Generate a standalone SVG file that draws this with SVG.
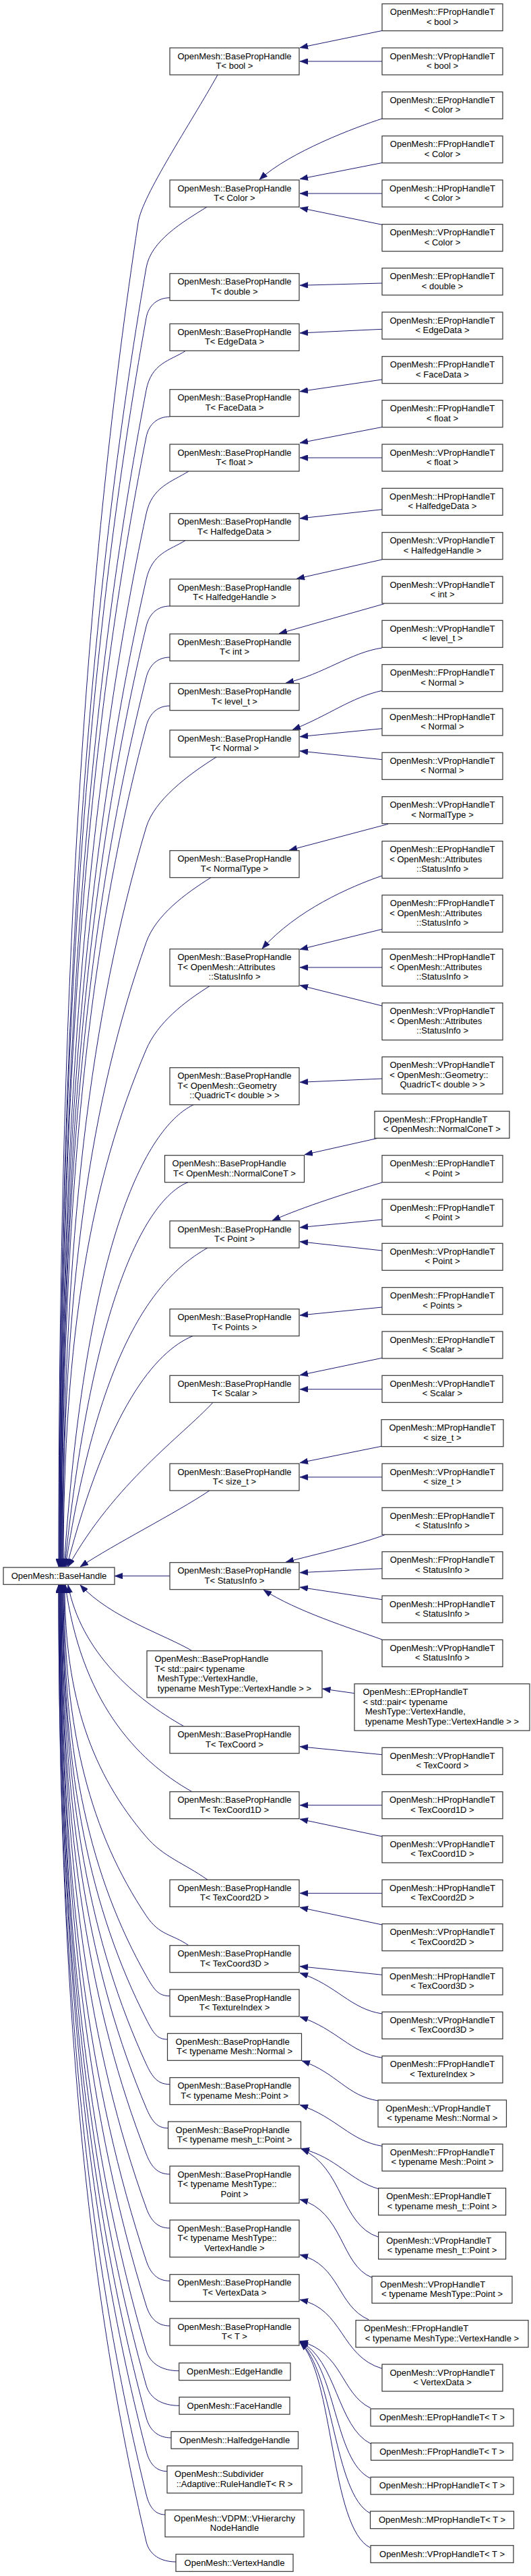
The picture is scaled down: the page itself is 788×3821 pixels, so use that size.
<svg xmlns="http://www.w3.org/2000/svg" width="788" height="3821" viewBox="0 0 788 3821">
<style>
rect{fill:#fff;stroke:#333;stroke-width:1.2}
text{font-family:"Liberation Sans",Arial,sans-serif;font-size:13px;fill:#000}
.c{text-anchor:middle}
#edges path{fill:none;stroke:#191970;stroke-width:1;marker-end:url(#arr)}
</style>
<defs>
<marker id="arr" markerUnits="userSpaceOnUse" viewBox="0 0 12 9" markerWidth="12" markerHeight="9" refX="12" refY="4.5" orient="auto"><path d="M0,0 L12,4.5 L0,9 Z" fill="#191970" stroke="#191970" stroke-width="0.5"/></marker>
</defs>
<rect x="0" y="0" width="788" height="3821" style="fill:#fff;stroke:none"/>
<g id="edges">
<path d="M567,45.5 L445,70.7"/>
<path d="M567,91 L445,91"/>
<path d="M567,176 C530,188 430,225 385,266.5"/>
<path d="M567,241.5 L445,265.5"/>
<path d="M567,287 L445,287"/>
<path d="M567,333.3 L445,308.3"/>
<path d="M567,420 L445,423.3"/>
<path d="M567,488.3 L445,494"/>
<path d="M567,563 L445,580.7"/>
<path d="M567,633.5 L445,657"/>
<path d="M567,679 L445,679"/>
<path d="M567,755.7 L445,769"/>
<path d="M567,830 L440,858.5"/>
<path d="M570,895.7 L414,939.8"/>
<path d="M567,961 C520,968 480,1000 424,1013.2"/>
<path d="M567,1024.3 C520,1035 490,1060 434,1082.5"/>
<path d="M567,1080.7 L445,1092.7"/>
<path d="M567,1126.7 L445,1114"/>
<path d="M576,1222.3 L429,1261.2"/>
<path d="M567,1299 C520,1315 440,1350 389,1407.2"/>
<path d="M567,1378.3 L445,1408.3"/>
<path d="M567,1435 L445,1435"/>
<path d="M567,1492 L445,1461.5"/>
<path d="M567,1600 L445,1605.3"/>
<path d="M560.6,1688.3 L452,1712.7"/>
<path d="M567,1754 C520,1768 450,1790 404,1810.5"/>
<path d="M567,1809 L445,1820.7"/>
<path d="M567,1855 L445,1841.7"/>
<path d="M567,1939 L445,1951"/>
<path d="M567,2014.3 L445,2039.8"/>
<path d="M567,2060.7 L445,2060.7"/>
<path d="M566,2145.3 L445,2169.8"/>
<path d="M567,2191 L445,2191"/>
<path d="M571,2276.7 C530,2292 470,2305 424,2317.2"/>
<path d="M567,2326.7 L445,2332.7"/>
<path d="M567,2372.7 L445,2354.3"/>
<path d="M567,2432 C520,2415 440,2390 391,2358.2"/>
<path d="M526,2511.7 L478.5,2505"/>
<path d="M567,2602.7 L445,2590.7"/>
<path d="M567,2677.7 L445,2677.7"/>
<path d="M567,2724 L445,2698.3"/>
<path d="M567,2808.3 L445,2808.3"/>
<path d="M567,2855 L445,2829.3"/>
<path d="M567,2929.3 L445,2916.7"/>
<path d="M567,2987 C520,2980 500,2945 445,2926.5"/>
<path d="M567,3052.3 C520,3045 500,3010 445,2991.5"/>
<path d="M561,3116 C515,3109 500,3075 448,3056.8"/>
<path d="M567,3183.3 C520,3176 500,3141 445,3122.2"/>
<path d="M561.6,3246.7 C520,3235 500,3200 447,3187"/>
<path d="M561.6,3318.3 C505,3300 510,3215 447,3187.5"/>
<path d="M552,3378.3 C505,3360 510,3280 445,3262.5"/>
<path d="M547,3440.7 C500,3420 505,3360 445,3344.5"/>
<path d="M567,3513.3 C505,3495 510,3425 445,3411.2"/>
<path d="M550,3572 C505,3550 510,3490 445,3472.5"/>
<path d="M550.5,3625 C500,3600 500,3500 445,3473"/>
<path d="M549.5,3676 C495,3650 500,3510 445,3473.5"/>
<path d="M549.5,3728 C495,3700 495,3515 445,3474"/>
<path d="M549.5,3779 C490,3750 495,3520 445,3474.5"/>
<path d="M323,111 C283,183 211,290 205,330 C129.6,828.5 87,1426.7 87,2324"/>
<path d="M307,307 C271,329.5 223.9,357 217,397 C133.8,878.8 88,1456.9 88,2324"/>
<path d="M252,441.7 C235,441.7 220.6,451.7 217,471.7 C133.8,934.8 88,1490.5 88,2324"/>
<path d="M275,520.7 C251.8,535.2 224.6,538.7 217,578.7 C133.8,1015 89,1538.6 89,2324"/>
<path d="M252,618 C235,618 221,628 217,648 C133.8,1067 89,1569.8 89,2324"/>
<path d="M280,699 C254.8,714.8 225.5,722 217,762 C133.8,1152.5 90,1621.1 90,2324"/>
<path d="M275,801.7 C251.8,816.2 226.1,819.7 217,859.7 C133.8,1225.8 90,1665.1 90,2324"/>
<path d="M252,899 C235,899 221.8,909 217,929 C133.8,1277.8 91,1696.3 91,2324"/>
<path d="M252,975 C235,975 222,985 217,1005 C133.8,1334.8 91,1730.5 91,2324"/>
<path d="M252,1047 C235,1047 222.3,1057 217,1077 C133.8,1388.8 92,1762.9 92,2324"/>
<path d="M321,1123 C279.4,1149 229,1187 217,1227 C135.1,1501.3 93,1830.4 93,2324"/>
<path d="M313,1301.7 C274.6,1325.7 231.2,1357.7 217,1397.7 C135.1,1629.3 93,1907.2 93,2324"/>
<path d="M311,1462.7 C273.4,1486.2 234.1,1516.7 217,1556.7 C135.1,1748.5 94,1978.7 94,2324"/>
<path d="M288,1638.3 C230,1665 130,1800 95,2324"/>
<path d="M279,1753.7 C225,1775 140,1900 96,2324"/>
<path d="M308,1851 C240,1890 150,1980 97,2324"/>
<path d="M286,1981.7 C230,2005 160,2090 99,2324"/>
<path d="M316,2080.3 C270,2130 170,2200 101,2324"/>
<path d="M311,2211 C260,2245 170,2290 119,2324"/>
<path d="M252,2337.7 L170,2337.7"/>
<path d="M285,2448.7 C245,2425 165,2400 119,2351"/>
<path d="M273,2560.7 C200,2520 120,2450 101,2351"/>
<path d="M285,2657.7 C200,2610 120,2520 97,2351"/>
<path d="M308,2788.3 C271.6,2762.8 242.7,2754.6 217,2724.6 C137,2631.2 96,2519.1 96,2351"/>
<path d="M280,2885.7 C254.8,2868.1 237,2871.6 217,2841.6 C135.1,2719 95,2571.8 95,2351"/>
<path d="M252,2960.7 C234.5,2960.7 228.3,2950.7 217,2930.7 C135.1,2785.8 94,2611.9 94,2351"/>
<path d="M248.5,3025 C232.8,3025 227.2,3015 217,2995 C135.1,2834 93,2640.8 93,2351"/>
<path d="M252,3091.7 C234.5,3091.7 226.2,3081.7 217,3061.7 C135.1,2884 93,2670.8 93,2351"/>
<path d="M249.5,3156.7 C233.3,3156.7 225.4,3146.7 217,3126.7 C135.1,2932.8 92,2700.1 92,2351"/>
<path d="M252,3225 C234.5,3225 224.8,3215 217,3195 C135.1,2984 91,2730.8 91,2351"/>
<path d="M252,3305 C234.5,3305 224.2,3295 217,3275 C133.8,3044 91,2766.8 91,2351"/>
<path d="M252,3383.3 C234.5,3383.3 223.6,3373.3 217,3353.3 C133.8,3102.7 90,2802 90,2351"/>
<path d="M252,3450 C234.5,3450 223.2,3440 217,3420 C133.8,3152.8 90,2832 90,2351"/>
<path d="M265.7,3516.7 C241.4,3516.7 222.9,3506.7 217,3486.7 C133.8,3202.8 89,2862.1 89,2351"/>
<path d="M266,3568.3 C241.5,3568.3 222.6,3558.3 217,3538.3 C133.8,3241.5 89,2885.3 89,2351"/>
<path d="M254,3616 C235.5,3616 222.4,3606 217,3586 C133.8,3277.3 88,2906.8 88,2351"/>
<path d="M248,3665.7 C232.5,3665.7 222.2,3655.7 217,3635.7 C133.8,3314.5 88,2929.1 88,2351"/>
<path d="M245,3730 C231,3730 221.9,3720 217,3700 C133.8,3362.8 87,2958 87,2351"/>
<path d="M261,3800 C239,3800 221.7,3790 217,3770 C133.8,3415.3 87,2989.6 87,2351"/>
</g>
<g id="n_basehandle"><rect x="5" y="2325" width="165" height="25.3"/><text x="87.5" y="2342" class="c">OpenMesh::BaseHandle</text></g>
<g id="m_bool"><rect x="252" y="71" width="192" height="40"/><text x="348" y="87.5" class="c">OpenMesh::BasePropHandle</text><text x="348" y="102" class="c">T&lt; bool &gt;</text></g>
<g id="m_color"><rect x="252" y="267" width="192" height="40"/><text x="348" y="283.5" class="c">OpenMesh::BasePropHandle</text><text x="348" y="298" class="c">T&lt; Color &gt;</text></g>
<g id="m_double"><rect x="252" y="405.7" width="192" height="40"/><text x="348" y="422.2" class="c">OpenMesh::BasePropHandle</text><text x="348" y="436.7" class="c">T&lt; double &gt;</text></g>
<g id="m_edgedata"><rect x="252" y="480.3" width="192" height="40"/><text x="348" y="496.8" class="c">OpenMesh::BasePropHandle</text><text x="348" y="511.3" class="c">T&lt; EdgeData &gt;</text></g>
<g id="m_facedata"><rect x="252" y="577.7" width="192" height="40"/><text x="348" y="594.2" class="c">OpenMesh::BasePropHandle</text><text x="348" y="608.7" class="c">T&lt; FaceData &gt;</text></g>
<g id="m_float"><rect x="252" y="659" width="192" height="40"/><text x="348" y="675.5" class="c">OpenMesh::BasePropHandle</text><text x="348" y="690" class="c">T&lt; float &gt;</text></g>
<g id="m_halfedgedata"><rect x="252" y="761.7" width="192" height="40"/><text x="348" y="778.2" class="c">OpenMesh::BasePropHandle</text><text x="348" y="792.7" class="c">T&lt; HalfedgeData &gt;</text></g>
<g id="m_halfedgehandle"><rect x="252" y="859" width="192" height="40"/><text x="348" y="875.5" class="c">OpenMesh::BasePropHandle</text><text x="348" y="890" class="c">T&lt; HalfedgeHandle &gt;</text></g>
<g id="m_int"><rect x="252" y="940.3" width="192" height="40"/><text x="348" y="956.8" class="c">OpenMesh::BasePropHandle</text><text x="348" y="971.3" class="c">T&lt; int &gt;</text></g>
<g id="m_level"><rect x="252" y="1013.7" width="192" height="40"/><text x="348" y="1030.2" class="c">OpenMesh::BasePropHandle</text><text x="348" y="1044.7" class="c">T&lt; level_t &gt;</text></g>
<g id="m_normal"><rect x="252" y="1083" width="192" height="40"/><text x="348" y="1099.5" class="c">OpenMesh::BasePropHandle</text><text x="348" y="1114" class="c">T&lt; Normal &gt;</text></g>
<g id="m_normaltype"><rect x="252" y="1261.7" width="192" height="40"/><text x="348" y="1278.2" class="c">OpenMesh::BasePropHandle</text><text x="348" y="1292.7" class="c">T&lt; NormalType &gt;</text></g>
<g id="m_attr"><rect x="252" y="1407.7" width="192" height="55"/><text x="348" y="1424.2" class="c">OpenMesh::BasePropHandle</text><text x="263.6" y="1438.7">T&lt; OpenMesh::Attributes</text><text x="348" y="1453.2" class="c">::StatusInfo &gt;</text></g>
<g id="m_quadric"><rect x="252" y="1583.7" width="192" height="55"/><text x="348" y="1600.2" class="c">OpenMesh::BasePropHandle</text><text x="263.6" y="1614.7">T&lt; OpenMesh::Geometry</text><text x="348" y="1629.2" class="c">::QuadricT&lt; double &gt; &gt;</text></g>
<g id="m_normalcone"><rect x="244.5" y="1713.7" width="207" height="40"/><text x="255.6" y="1730.2">OpenMesh::BasePropHandle</text><text x="348" y="1744.7" class="c">T&lt; OpenMesh::NormalConeT &gt;</text></g>
<g id="m_point"><rect x="252" y="1811" width="192" height="40"/><text x="348" y="1827.5" class="c">OpenMesh::BasePropHandle</text><text x="348" y="1842" class="c">T&lt; Point &gt;</text></g>
<g id="m_points"><rect x="252" y="1941.7" width="192" height="40"/><text x="348" y="1958.2" class="c">OpenMesh::BasePropHandle</text><text x="348" y="1972.7" class="c">T&lt; Points &gt;</text></g>
<g id="m_scalar"><rect x="252" y="2040.3" width="192" height="40"/><text x="348" y="2056.8" class="c">OpenMesh::BasePropHandle</text><text x="348" y="2071.3" class="c">T&lt; Scalar &gt;</text></g>
<g id="m_size"><rect x="252" y="2171" width="192" height="40"/><text x="348" y="2187.5" class="c">OpenMesh::BasePropHandle</text><text x="348" y="2202" class="c">T&lt; size_t &gt;</text></g>
<g id="m_statusinfo"><rect x="252" y="2317.7" width="192" height="40"/><text x="348" y="2334.2" class="c">OpenMesh::BasePropHandle</text><text x="348" y="2348.7" class="c">T&lt; StatusInfo &gt;</text></g>
<g id="m_pair"><rect x="218" y="2448.7" width="260" height="69.3"/><text x="229.5" y="2465.2">OpenMesh::BasePropHandle</text><text x="229.5" y="2479.7">T&lt; std::pair&lt; typename</text><text x="233.8" y="2494.2">MeshType::VertexHandle,</text><text x="348" y="2508.7" class="c">typename MeshType::VertexHandle &gt; &gt;</text></g>
<g id="m_texcoord"><rect x="252" y="2560.7" width="192" height="40"/><text x="348" y="2577.2" class="c">OpenMesh::BasePropHandle</text><text x="348" y="2591.7" class="c">T&lt; TexCoord &gt;</text></g>
<g id="m_texcoord1d"><rect x="252" y="2657.7" width="192" height="40"/><text x="348" y="2674.2" class="c">OpenMesh::BasePropHandle</text><text x="348" y="2688.7" class="c">T&lt; TexCoord1D &gt;</text></g>
<g id="m_texcoord2d"><rect x="252" y="2788.3" width="192" height="40"/><text x="348" y="2804.8" class="c">OpenMesh::BasePropHandle</text><text x="348" y="2819.3" class="c">T&lt; TexCoord2D &gt;</text></g>
<g id="m_texcoord3d"><rect x="252" y="2885.7" width="192" height="40"/><text x="348" y="2902.2" class="c">OpenMesh::BasePropHandle</text><text x="348" y="2916.7" class="c">T&lt; TexCoord3D &gt;</text></g>
<g id="m_textureindex"><rect x="252" y="2951" width="192" height="40"/><text x="348" y="2967.5" class="c">OpenMesh::BasePropHandle</text><text x="348" y="2982" class="c">T&lt; TextureIndex &gt;</text></g>
<g id="m_meshnormal"><rect x="248.5" y="3016.3" width="199" height="40"/><text x="260.6" y="3032.8">OpenMesh::BasePropHandle</text><text x="348" y="3047.3" class="c">T&lt; typename Mesh::Normal &gt;</text></g>
<g id="m_meshpoint"><rect x="252" y="3081.7" width="192" height="40"/><text x="348" y="3098.2" class="c">OpenMesh::BasePropHandle</text><text x="348" y="3112.7" class="c">T&lt; typename Mesh::Point &gt;</text></g>
<g id="m_meshtpoint"><rect x="249.5" y="3147" width="197" height="40"/><text x="260.6" y="3163.5">OpenMesh::BasePropHandle</text><text x="348" y="3178" class="c">T&lt; typename mesh_t::Point &gt;</text></g>
<g id="m_meshtypepoint"><rect x="252" y="3213" width="192" height="55"/><text x="348" y="3229.5" class="c">OpenMesh::BasePropHandle</text><text x="263.6" y="3244">T&lt; typename MeshType::</text><text x="348" y="3258.5" class="c">Point &gt;</text></g>
<g id="m_meshtypevh"><rect x="252" y="3293" width="192" height="55"/><text x="348" y="3309.5" class="c">OpenMesh::BasePropHandle</text><text x="263.6" y="3324">T&lt; typename MeshType::</text><text x="348" y="3338.5" class="c">VertexHandle &gt;</text></g>
<g id="m_vertexdata"><rect x="252" y="3373.7" width="192" height="40"/><text x="348" y="3390.2" class="c">OpenMesh::BasePropHandle</text><text x="348" y="3404.7" class="c">T&lt; VertexData &gt;</text></g>
<g id="m_t"><rect x="252" y="3439" width="192" height="40"/><text x="348" y="3455.5" class="c">OpenMesh::BasePropHandle</text><text x="348" y="3470" class="c">T&lt; T &gt;</text></g>
<g id="m_edgehandle"><rect x="265.7" y="3505" width="165.3" height="25.7"/><text x="348.3" y="3522" class="c">OpenMesh::EdgeHandle</text></g>
<g id="m_facehandle"><rect x="266" y="3555.7" width="164" height="25.5"/><text x="348" y="3572.7" class="c">OpenMesh::FaceHandle</text></g>
<g id="m_halfedgeh"><rect x="254" y="3606.7" width="188.5" height="25.5"/><text x="348.2" y="3623.7" class="c">OpenMesh::HalfedgeHandle</text></g>
<g id="m_subdivider"><rect x="248" y="3657.7" width="200" height="40.3"/><text x="259.1" y="3674.2">OpenMesh::Subdivider</text><text x="348" y="3688.7" class="c">::Adaptive::RuleHandleT&lt; R &gt;</text></g>
<g id="m_vdpm"><rect x="245" y="3723" width="206" height="40"/><text x="348" y="3739.5" class="c">OpenMesh::VDPM::VHierarchy</text><text x="348" y="3754" class="c">NodeHandle</text></g>
<g id="m_vertexhandle"><rect x="261" y="3788.7" width="174" height="25.6"/><text x="348" y="3805.7" class="c">OpenMesh::VertexHandle</text></g>
<g id="r_f_bool"><rect x="567" y="5.7" width="179" height="40"/><text x="656.5" y="22.2" class="c">OpenMesh::FPropHandleT</text><text x="656.5" y="36.7" class="c">&lt; bool &gt;</text></g>
<g id="r_v_bool"><rect x="567" y="71" width="179" height="40"/><text x="656.5" y="87.5" class="c">OpenMesh::VPropHandleT</text><text x="656.5" y="102" class="c">&lt; bool &gt;</text></g>
<g id="r_e_color"><rect x="567" y="136.3" width="179" height="40"/><text x="656.5" y="152.8" class="c">OpenMesh::EPropHandleT</text><text x="656.5" y="167.3" class="c">&lt; Color &gt;</text></g>
<g id="r_f_color"><rect x="567" y="201.7" width="179" height="40"/><text x="656.5" y="218.2" class="c">OpenMesh::FPropHandleT</text><text x="656.5" y="232.7" class="c">&lt; Color &gt;</text></g>
<g id="r_h_color"><rect x="567" y="267" width="179" height="40"/><text x="656.5" y="283.5" class="c">OpenMesh::HPropHandleT</text><text x="656.5" y="298" class="c">&lt; Color &gt;</text></g>
<g id="r_v_color"><rect x="567" y="332.7" width="179" height="40"/><text x="656.5" y="349.2" class="c">OpenMesh::VPropHandleT</text><text x="656.5" y="363.7" class="c">&lt; Color &gt;</text></g>
<g id="r_e_double"><rect x="567" y="397.7" width="179" height="40"/><text x="656.5" y="414.2" class="c">OpenMesh::EPropHandleT</text><text x="656.5" y="428.7" class="c">&lt; double &gt;</text></g>
<g id="r_e_edgedata"><rect x="567" y="463" width="179" height="40"/><text x="656.5" y="479.5" class="c">OpenMesh::EPropHandleT</text><text x="656.5" y="494" class="c">&lt; EdgeData &gt;</text></g>
<g id="r_f_facedata"><rect x="567" y="528.7" width="179" height="40"/><text x="656.5" y="545.2" class="c">OpenMesh::FPropHandleT</text><text x="656.5" y="559.7" class="c">&lt; FaceData &gt;</text></g>
<g id="r_f_float"><rect x="567" y="593.7" width="179" height="40"/><text x="656.5" y="610.2" class="c">OpenMesh::FPropHandleT</text><text x="656.5" y="624.7" class="c">&lt; float &gt;</text></g>
<g id="r_v_float"><rect x="567" y="659" width="179" height="40"/><text x="656.5" y="675.5" class="c">OpenMesh::VPropHandleT</text><text x="656.5" y="690" class="c">&lt; float &gt;</text></g>
<g id="r_h_halfedgedata"><rect x="567" y="724.3" width="179" height="40"/><text x="656.5" y="740.8" class="c">OpenMesh::HPropHandleT</text><text x="656.5" y="755.3" class="c">&lt; HalfedgeData &gt;</text></g>
<g id="r_v_halfedgehandle"><rect x="567" y="789.7" width="179" height="40"/><text x="656.5" y="806.2" class="c">OpenMesh::VPropHandleT</text><text x="656.5" y="820.7" class="c">&lt; HalfedgeHandle &gt;</text></g>
<g id="r_v_int"><rect x="567" y="855" width="179" height="40"/><text x="656.5" y="871.5" class="c">OpenMesh::VPropHandleT</text><text x="656.5" y="886" class="c">&lt; int &gt;</text></g>
<g id="r_v_level"><rect x="567" y="920.3" width="179" height="40"/><text x="656.5" y="936.8" class="c">OpenMesh::VPropHandleT</text><text x="656.5" y="951.3" class="c">&lt; level_t &gt;</text></g>
<g id="r_f_normal"><rect x="567" y="985.7" width="179" height="40"/><text x="656.5" y="1002.2" class="c">OpenMesh::FPropHandleT</text><text x="656.5" y="1016.7" class="c">&lt; Normal &gt;</text></g>
<g id="r_h_normal"><rect x="567" y="1051" width="179" height="40"/><text x="656.5" y="1067.5" class="c">OpenMesh::HPropHandleT</text><text x="656.5" y="1082" class="c">&lt; Normal &gt;</text></g>
<g id="r_v_normal"><rect x="567" y="1116.3" width="179" height="40"/><text x="656.5" y="1132.8" class="c">OpenMesh::VPropHandleT</text><text x="656.5" y="1147.3" class="c">&lt; Normal &gt;</text></g>
<g id="r_v_normaltype"><rect x="567" y="1181.7" width="179" height="40"/><text x="656.5" y="1198.2" class="c">OpenMesh::VPropHandleT</text><text x="656.5" y="1212.7" class="c">&lt; NormalType &gt;</text></g>
<g id="r_e_attr"><rect x="567" y="1247.7" width="179" height="55"/><text x="656.5" y="1264.2" class="c">OpenMesh::EPropHandleT</text><text x="578.3" y="1278.7">&lt; OpenMesh::Attributes</text><text x="656.5" y="1293.2" class="c">::StatusInfo &gt;</text></g>
<g id="r_f_attr"><rect x="567" y="1327.7" width="179" height="55"/><text x="656.5" y="1344.2" class="c">OpenMesh::FPropHandleT</text><text x="578.3" y="1358.7">&lt; OpenMesh::Attributes</text><text x="656.5" y="1373.2" class="c">::StatusInfo &gt;</text></g>
<g id="r_h_attr"><rect x="567" y="1407.7" width="179" height="55"/><text x="656.5" y="1424.2" class="c">OpenMesh::HPropHandleT</text><text x="578.3" y="1438.7">&lt; OpenMesh::Attributes</text><text x="656.5" y="1453.2" class="c">::StatusInfo &gt;</text></g>
<g id="r_v_attr"><rect x="567" y="1487.7" width="179" height="55"/><text x="656.5" y="1504.2" class="c">OpenMesh::VPropHandleT</text><text x="578.3" y="1518.7">&lt; OpenMesh::Attributes</text><text x="656.5" y="1533.2" class="c">::StatusInfo &gt;</text></g>
<g id="r_v_quadric"><rect x="567" y="1567.7" width="179" height="55"/><text x="656.5" y="1584.2" class="c">OpenMesh::VPropHandleT</text><text x="578.3" y="1598.7">&lt; OpenMesh::Geometry::</text><text x="656.5" y="1613.2" class="c">QuadricT&lt; double &gt; &gt;</text></g>
<g id="r_f_normalcone"><rect x="556" y="1648.3" width="200" height="40"/><text x="568.2" y="1664.8">OpenMesh::FPropHandleT</text><text x="656" y="1679.3" class="c">&lt; OpenMesh::NormalConeT &gt;</text></g>
<g id="r_e_point"><rect x="567" y="1713.7" width="179" height="40"/><text x="656.5" y="1730.2" class="c">OpenMesh::EPropHandleT</text><text x="656.5" y="1744.7" class="c">&lt; Point &gt;</text></g>
<g id="r_f_point"><rect x="567" y="1779" width="179" height="40"/><text x="656.5" y="1795.5" class="c">OpenMesh::FPropHandleT</text><text x="656.5" y="1810" class="c">&lt; Point &gt;</text></g>
<g id="r_v_point"><rect x="567" y="1844.3" width="179" height="40"/><text x="656.5" y="1860.8" class="c">OpenMesh::VPropHandleT</text><text x="656.5" y="1875.3" class="c">&lt; Point &gt;</text></g>
<g id="r_f_points"><rect x="567" y="1909.7" width="179" height="40"/><text x="656.5" y="1926.2" class="c">OpenMesh::FPropHandleT</text><text x="656.5" y="1940.7" class="c">&lt; Points &gt;</text></g>
<g id="r_e_scalar"><rect x="567" y="1975" width="179" height="40"/><text x="656.5" y="1991.5" class="c">OpenMesh::EPropHandleT</text><text x="656.5" y="2006" class="c">&lt; Scalar &gt;</text></g>
<g id="r_v_scalar"><rect x="567" y="2040.3" width="179" height="40"/><text x="656.5" y="2056.8" class="c">OpenMesh::VPropHandleT</text><text x="656.5" y="2071.3" class="c">&lt; Scalar &gt;</text></g>
<g id="r_m_size"><rect x="566" y="2105.7" width="181" height="40"/><text x="656.5" y="2122.2" class="c">OpenMesh::MPropHandleT</text><text x="656.5" y="2136.7" class="c">&lt; size_t &gt;</text></g>
<g id="r_v_size"><rect x="567" y="2171" width="179" height="40"/><text x="656.5" y="2187.5" class="c">OpenMesh::VPropHandleT</text><text x="656.5" y="2202" class="c">&lt; size_t &gt;</text></g>
<g id="r_e_status"><rect x="567" y="2236.3" width="179" height="40"/><text x="656.5" y="2252.8" class="c">OpenMesh::EPropHandleT</text><text x="656.5" y="2267.3" class="c">&lt; StatusInfo &gt;</text></g>
<g id="r_f_status"><rect x="567" y="2301.7" width="179" height="40"/><text x="656.5" y="2318.2" class="c">OpenMesh::FPropHandleT</text><text x="656.5" y="2332.7" class="c">&lt; StatusInfo &gt;</text></g>
<g id="r_h_status"><rect x="567" y="2367" width="179" height="40"/><text x="656.5" y="2383.5" class="c">OpenMesh::HPropHandleT</text><text x="656.5" y="2398" class="c">&lt; StatusInfo &gt;</text></g>
<g id="r_v_status"><rect x="567" y="2432.3" width="179" height="40"/><text x="656.5" y="2448.8" class="c">OpenMesh::VPropHandleT</text><text x="656.5" y="2463.3" class="c">&lt; StatusInfo &gt;</text></g>
<g id="r_e_pair"><rect x="526" y="2497.7" width="260" height="69.3"/><text x="538.4" y="2514.2">OpenMesh::EPropHandleT</text><text x="538.4" y="2528.7">&lt; std::pair&lt; typename</text><text x="542" y="2543.2">MeshType::VertexHandle,</text><text x="656" y="2557.7" class="c">typename MeshType::VertexHandle &gt; &gt;</text></g>
<g id="r_v_texcoord"><rect x="567" y="2592.3" width="179" height="40"/><text x="656.5" y="2608.8" class="c">OpenMesh::VPropHandleT</text><text x="656.5" y="2623.3" class="c">&lt; TexCoord &gt;</text></g>
<g id="r_h_texcoord1d"><rect x="567" y="2657.7" width="179" height="40"/><text x="656.5" y="2674.2" class="c">OpenMesh::HPropHandleT</text><text x="656.5" y="2688.7" class="c">&lt; TexCoord1D &gt;</text></g>
<g id="r_v_texcoord1d"><rect x="567" y="2723" width="179" height="40"/><text x="656.5" y="2739.5" class="c">OpenMesh::VPropHandleT</text><text x="656.5" y="2754" class="c">&lt; TexCoord1D &gt;</text></g>
<g id="r_h_texcoord2d"><rect x="567" y="2788.3" width="179" height="40"/><text x="656.5" y="2804.8" class="c">OpenMesh::HPropHandleT</text><text x="656.5" y="2819.3" class="c">&lt; TexCoord2D &gt;</text></g>
<g id="r_v_texcoord2d"><rect x="567" y="2853.7" width="179" height="40"/><text x="656.5" y="2870.2" class="c">OpenMesh::VPropHandleT</text><text x="656.5" y="2884.7" class="c">&lt; TexCoord2D &gt;</text></g>
<g id="r_h_texcoord3d"><rect x="567" y="2919" width="179" height="40"/><text x="656.5" y="2935.5" class="c">OpenMesh::HPropHandleT</text><text x="656.5" y="2950" class="c">&lt; TexCoord3D &gt;</text></g>
<g id="r_v_texcoord3d"><rect x="567" y="2984.3" width="179" height="40"/><text x="656.5" y="3000.8" class="c">OpenMesh::VPropHandleT</text><text x="656.5" y="3015.3" class="c">&lt; TexCoord3D &gt;</text></g>
<g id="r_f_textureindex"><rect x="567" y="3049.7" width="179" height="40"/><text x="656.5" y="3066.2" class="c">OpenMesh::FPropHandleT</text><text x="656.5" y="3080.7" class="c">&lt; TextureIndex &gt;</text></g>
<g id="r_v_meshnormal"><rect x="561" y="3115" width="190.5" height="40"/><text x="572.2" y="3131.5">OpenMesh::VPropHandleT</text><text x="656.25" y="3146" class="c">&lt; typename Mesh::Normal &gt;</text></g>
<g id="r_f_meshpoint"><rect x="567" y="3180.3" width="179" height="40"/><text x="656.5" y="3196.8" class="c">OpenMesh::FPropHandleT</text><text x="656.5" y="3211.3" class="c">&lt; typename Mesh::Point &gt;</text></g>
<g id="r_e_meshtpoint"><rect x="561.6" y="3245.7" width="189" height="40"/><text x="573.2" y="3262.2">OpenMesh::EPropHandleT</text><text x="656.1" y="3276.7" class="c">&lt; typename mesh_t::Point &gt;</text></g>
<g id="r_v_meshtpoint"><rect x="561.6" y="3311" width="189" height="40"/><text x="573.2" y="3327.5">OpenMesh::VPropHandleT</text><text x="656.1" y="3342" class="c">&lt; typename mesh_t::Point &gt;</text></g>
<g id="r_v_meshtypepoint"><rect x="552" y="3376.3" width="208" height="40"/><text x="564.1" y="3392.8">OpenMesh::VPropHandleT</text><text x="656" y="3407.3" class="c">&lt; typename MeshType::Point &gt;</text></g>
<g id="r_f_meshtypevh"><rect x="528" y="3441.7" width="256" height="40"/><text x="539.9" y="3458.2">OpenMesh::FPropHandleT</text><text x="656" y="3472.7" class="c">&lt; typename MeshType::VertexHandle &gt;</text></g>
<g id="r_v_vertexdata"><rect x="567" y="3507" width="179" height="40"/><text x="656.5" y="3523.5" class="c">OpenMesh::VPropHandleT</text><text x="656.5" y="3538" class="c">&lt; VertexData &gt;</text></g>
<g id="r_e_t"><rect x="550" y="3573" width="212" height="25.7"/><text x="656" y="3590" class="c">OpenMesh::EPropHandleT&lt; T &gt;</text></g>
<g id="r_f_t"><rect x="550.5" y="3623.7" width="210.5" height="25.6"/><text x="655.75" y="3640.7" class="c">OpenMesh::FPropHandleT&lt; T &gt;</text></g>
<g id="r_h_t"><rect x="550" y="3674.3" width="212" height="25.7"/><text x="656" y="3691.3" class="c">OpenMesh::HPropHandleT&lt; T &gt;</text></g>
<g id="r_m_t"><rect x="549.5" y="3725" width="213" height="25.7"/><text x="656" y="3742" class="c">OpenMesh::MPropHandleT&lt; T &gt;</text></g>
<g id="r_v_t"><rect x="550" y="3775.7" width="212" height="25.6"/><text x="656" y="3792.7" class="c">OpenMesh::VPropHandleT&lt; T &gt;</text></g>
</svg>
